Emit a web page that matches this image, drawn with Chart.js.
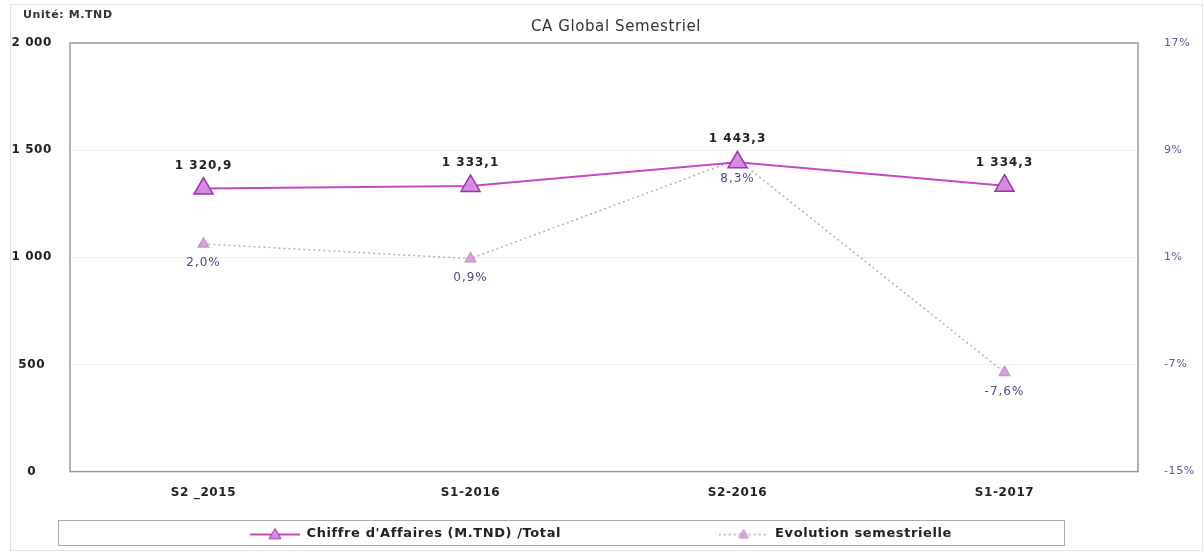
<!DOCTYPE html>
<html>
<head>
<meta charset="utf-8">
<script src="https://cdn.jsdelivr.net/npm/chart.js@4"></script>
<style>
  html, body { margin:0; padding:0; background:#fff; }
  #wrap { width:1204px; height:552px; position:relative; }
</style>
</head>
<body>
<div id="wrap"><canvas id="myChart" width="1204" height="552"></canvas></div>
<script>
var semestres = ['S2 _2015', 'S1-2016', 'S2-2016', 'S1-2017'];
var chiffreAffaires = [1320.9, 1333.1, 1443.3, 1334.3];
var evolution = [2.0, 0.9, 8.3, -7.6];
var ticksGauche = [0, 500, 1000, 1500, 2000];
var ticksDroite = [-15, -7, 1, 9, 17];

function fmtNombre(v, dec){
  var s = v.toFixed(dec).split('.');
  var ent = s[0].replace(/\B(?=(\d{3})+(?!\d))/g, ' ');
  return s.length > 1 ? ent + ',' + s[1] : ent;
}

// petits symboles de legende (ligne + triangle)
function symbole(couleurLigne, dash, couleurTri, bordTri, r){
  var cv = document.createElement('canvas');
  cv.width = 50; cv.height = 16;
  var c = cv.getContext('2d');
  c.strokeStyle = couleurLigne;
  c.lineWidth = 2;
  c.setLineDash(dash);
  c.beginPath(); c.moveTo(0, 9); c.lineTo(50, 9); c.stroke();
  c.setLineDash([]);
  c.fillStyle = couleurTri;
  c.strokeStyle = bordTri;
  c.lineWidth = 1;
  c.beginPath();
  c.moveTo(25, 9 - r); c.lineTo(25 + r, 9 + r * 0.7); c.lineTo(25 - r, 9 + r * 0.7); c.closePath();
  c.fill(); c.stroke();
  return cv;
}
var symCA = symbole('#c845c8', [], '#d68be0', '#9a35a8', 6);
var symEvo = symbole('#c8b8c8', [2, 3], '#dca0dc', '#d090d0', 5);

var decorPlugin = {
  id: 'decor',
  beforeUpdate: function(chart){ chart.ctx.letterSpacing = '0.6px'; },
  beforeDraw: function(chart){
    var c = chart.ctx;
    c.letterSpacing = '0.6px';
    c.save();
    c.fillStyle = '#fff';
    c.fillRect(0, 0, chart.width, chart.height);
    c.strokeStyle = '#e2e2e2';
    c.lineWidth = 1;
    c.strokeRect(10.5, 4.5, chart.width - 12, chart.height - 6);
    c.fillStyle = '#333';
    c.font = 'bold 11px "DejaVu Sans"';
    c.textAlign = 'left';
    c.textBaseline = 'middle';
    c.fillText('Unité: M.TND', 23, 15);
    c.font = '15px "DejaVu Sans"';
    c.textAlign = 'center';
    c.fillText('CA Global Semestriel', 616, 27);
    c.restore();
  },
  afterDraw: function(chart){
    var c = chart.ctx, a = chart.chartArea;
    c.save();
    c.strokeStyle = '#9a9a9a';
    c.lineWidth = 1.5;
    c.strokeRect(a.left, a.top, a.right - a.left, a.bottom - a.top);
    c.strokeStyle = '#aaa';
    c.lineWidth = 1;
    c.strokeRect(58.5, 520.5, 1006, 25);
    c.restore();
  },
  afterDatasetsDraw: function(chart){
    var c = chart.ctx;
    c.save();
    c.textAlign = 'center';
    var m0 = chart.getDatasetMeta(0);
    c.font = 'bold 12px "DejaVu Sans"';
    c.letterSpacing = '1px';
    c.fillStyle = '#222';
    c.textBaseline = 'bottom';
    m0.data.forEach(function(p, i){
      c.fillText(fmtNombre(chiffreAffaires[i], 1), p.x, p.y - 17);
    });
    var m1 = chart.getDatasetMeta(1);
    c.font = '12px "DejaVu Sans"';
    c.fillStyle = '#4b4b8c';
    c.textBaseline = 'top';
    m1.data.forEach(function(p, i){
      c.fillText(fmtNombre(evolution[i], 1) + '%', p.x, p.y + 13);
    });
    c.restore();
  }
};

var ctx = document.getElementById('myChart').getContext('2d');
var chart = new Chart(ctx, {
  type: 'line',
  data: {
    labels: semestres,
    datasets: [{
      label: "Chiffre d'Affaires (M.TND) /Total",
      data: chiffreAffaires,
      yAxisID: 'y',
      borderColor: '#c845c8',
      backgroundColor: '#d68be0',
      borderWidth: 2,
      pointStyle: 'triangle',
      pointRadius: 11,
      pointBorderColor: '#9a35a8',
      pointBorderWidth: 1.5,
      pointBackgroundColor: '#d68be0'
    }, {
      label: 'Evolution semestrielle',
      data: evolution,
      yAxisID: 'y1',
      borderColor: '#b8b0b8',
      backgroundColor: '#d898d8',
      borderWidth: 1.5,
      borderDash: [2, 3],
      pointStyle: 'triangle',
      pointRadius: 6,
      pointBorderColor: '#d090d0',
      pointBackgroundColor: '#dca0dc'
    }]
  },
  options: {
    responsive: false,
    animation: false,
    layout: { padding: { top: 43, left: 4, right: 6, bottom: 2 } },
    plugins: {
      title: { display: false },
      tooltip: { enabled: false },
      legend: {
        position: 'bottom',
        labels: {
          usePointStyle: true,
          pointStyleWidth: 50,
          padding: 14,
          color: '#222',
          font: { family: 'DejaVu Sans', size: 13, weight: 'bold' },
          generateLabels: function(chart){
            var items = Chart.defaults.plugins.legend.labels.generateLabels(chart);
            items[0].pointStyle = symCA;
            items[1].pointStyle = symEvo;
            items[0].text = items[0].text + '                            ';
            return items;
          }
        }
      }
    },
    scales: {
      x: {
        offset: true,
        grid: { display: false },
        border: { color: '#9a9a9a' },
        afterFit: function(s){ s.height = s.height + 7; },
        ticks: { color: '#222', padding: 6, font: { family: 'DejaVu Sans', size: 12, weight: 'bold' } }
      },
      y: {
        position: 'left',
        min: 0, max: 2000,
        afterBuildTicks: function(s){ s.ticks = ticksGauche.map(function(v){ return { value: v }; }); },
        afterFit: function(s){ s.width = 66; },
        grid: { color: '#f0f0f0', drawTicks: false },
        border: { display: false },
        ticks: {
          color: '#222', padding: 18, crossAlign: 'center',
          font: { family: 'DejaVu Sans', size: 12, weight: 'bold' },
          callback: function(v){ return fmtNombre(v, 0); }
        }
      },
      y1: {
        position: 'right',
        min: -15, max: 17,
        afterBuildTicks: function(s){ s.ticks = ticksDroite.map(function(v){ return { value: v }; }); },
        afterFit: function(s){ s.width = 60; },
        grid: { display: false, drawTicks: false },
        border: { display: false },
        ticks: {
          color: '#5a5aa0', padding: 26,
          font: { family: 'DejaVu Sans', size: 11 },
          callback: function(v){ return v + '%'; }
        }
      }
    }
  },
  plugins: [decorPlugin]
});
</script>
</body>
</html>
